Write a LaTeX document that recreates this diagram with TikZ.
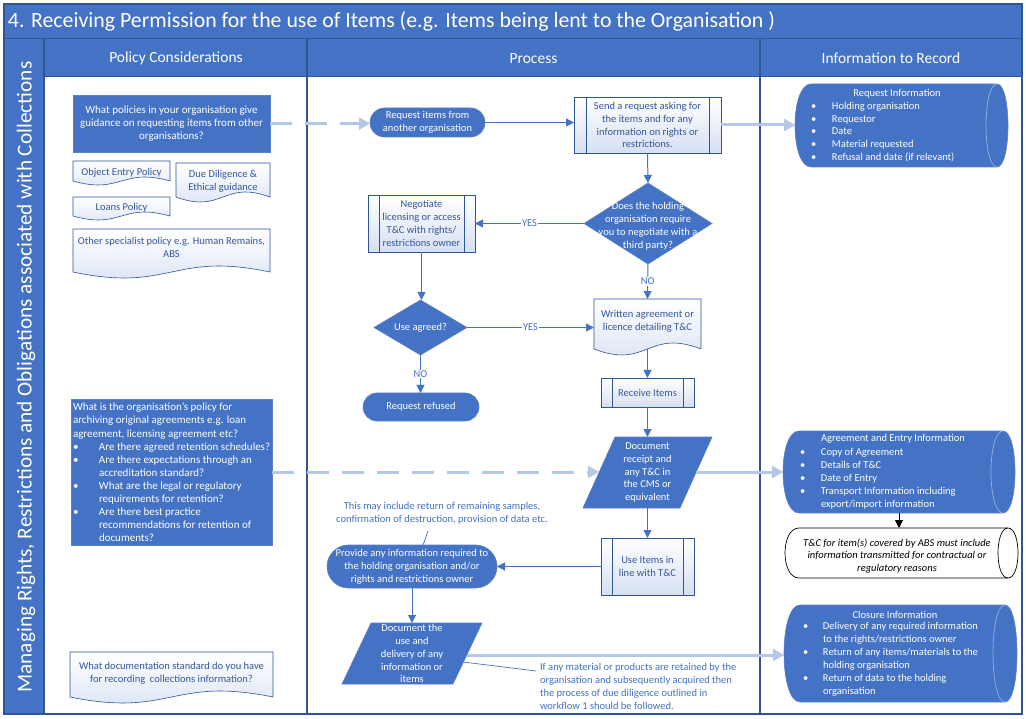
\documentclass[tikz,border=0pt]{standalone}
\usepackage{fontspec}
\setmainfont{Carlito}
\usepackage{graphicx}
\usetikzlibrary{arrows.meta,shapes.geometric,calc}
\definecolor{dblue}{HTML}{4472C4}
\definecolor{nblue}{HTML}{2F5597}
\definecolor{lblue}{HTML}{B4C7E7}
\definecolor{bord}{HTML}{5A7FC8}
\definecolor{shadeb}{HTML}{D6E0F3}
\definecolor{tblue}{HTML}{34579E}
\definecolor{arcl}{HTML}{8EA9DB}
\newcommand\docshape[6]{\path[#6] (#1,#2) -- (#3,#2) -- (#3,#4) .. controls ({(#1+#3)/2},{#4-3.45*#5}) and ({(#1+#3)/2},{#4+3.45*#5}) .. (#1,#4) -- cycle;}
\newcommand\ddshape[8]{%
 \path[#7] ({#1+#5},#2) -- ({#3-#6},#2) .. controls ({#3+#6/3},#2) and ({#3+#6/3},#4) .. ({#3-#6},#4) -- ({#1+#5},#4) .. controls ({#1-#5/3},#4) and ({#1-#5/3},#2) .. ({#1+#5},#2) -- cycle;
 \path[#8] ({#3-#6},#2) .. controls ({#3-7*#6/3},#2) and ({#3-7*#6/3},#4) .. ({#3-#6},#4);}
\newcommand\plines[2]{\draw[nblue, line width=0.6pt] ([xshift=#2]#1.north west) -- ([xshift=#2]#1.south west) ([xshift=-#2]#1.north east) -- ([xshift=-#2]#1.south east);}
\newcommand\bul[1]{\makebox[#1][l]{•}}
\begin{document}
\begin{tikzpicture}[x=1pt,y=-1pt,
  every node/.style={inner sep=0pt, outer sep=0pt},
  nf/.style={font=\fontsize{10.5}{12.9}\selectfont},
  pf/.style={font=\fontsize{11}{13}\selectfont},
  darkbox/.style={nf, fill=dblue, draw=bord, line width=0.6pt, text=white, align=center},
  lightbox/.style={nf, draw=nblue, line width=0.6pt, top color=white, bottom color=shadeb, text=tblue, align=center},
  lightshape/.style={draw=nblue, line width=0.6pt, top color=white, bottom color=shadeb},
  darkshape/.style={fill=dblue, draw=bord, line width=0.6pt},
  ttext/.style={nf, text=tblue, align=center},
  wtext/.style={nf, text=white, align=center},
  conn/.style={draw=dblue, line width=1pt, -{Triangle[length=8pt,width=8pt]}},
  bconn/.style={draw=black, line width=1pt, -{Triangle[length=8pt,width=8pt]}},
  lconn/.style={draw=lblue, line width=3pt, -{Triangle[length=11pt,width=12pt]}},
  dconn/.style={lconn, dash pattern=on 22pt off 13pt},
  lbl/.style={fill=white, text=dblue, font=\fontsize{10.5}{12}\selectfont, inner sep=0.8pt},
  annline/.style={draw=dblue, line width=0.7pt},
  hdr/.style={text=white, font=\fontsize{15.5}{18}\selectfont},
]
\useasboundingbox (0,0) rectangle (1026,719);
\fill[white] (0,0) rectangle (1026,719);
% frame
\fill[dblue] (4,4) rectangle (1022,38);
\fill[dblue] (4,39.5) rectangle (1022,77);
\fill[dblue] (4,39.5) rectangle (44,714);
\draw[nblue, line width=1pt] (4,38.7) -- (1022,38.7);
\draw[nblue, line width=1pt] (44,77) -- (1022,77);
\draw[nblue, line width=1.2pt] (307,39.5) -- (307,714) (760,39.5) -- (760,714) (44,39.5) -- (44,714);
\draw[nblue, line width=1.2pt] (4,4) rectangle (1022,714);
\node[anchor=west, text=white] (title) at (8,21.5) {\resizebox{767pt}{!}{\fontsize{20}{24}\selectfont 4. Receiving Permission for the use of Items (e.g. Items being lent to the Organisation )}};
\node[hdr] (hpol) at (176,58.5) {Policy Considerations};
\node[hdr] (hproc) at (533.5,58.5) {Process};
\node[hdr] (hinfo) at (891,58.5) {Information to Record};
\node[rotate=90, text=white] (band) at (26,377) {\resizebox{631pt}{!}{\fontsize{20}{24}\selectfont Managing Rights, Restrictions and Obligations associated with Collections}};
% policy column
\node[darkbox, pf, minimum width=197pt, minimum height=57pt] (pol1) at (171.5,123.5) {What policies in your organisation give\\guidance on requesting items from other\\organisations?};
\docshape{73}{161}{170}{181}{4}{lightshape}
\node[ttext] (objp) at (121.5,173) {Object Entry Policy};
\docshape{176}{163}{270}{197}{5}{lightshape}
\node[ttext] (dued) at (223,181.5) {Due Diligence \&\\Ethical guidance};
\docshape{73}{197}{170}{216}{4}{lightshape}
\node[ttext] (loans) at (121.5,208) {Loans Policy};
\docshape{73}{229}{270}{272}{6}{lightshape}
\node[ttext] (other) at (171.5,247.5) {Other specialist policy e.g. Human Remains,\\ABS};
\node[darkshape, minimum width=201pt, minimum height=146pt] (pol2) at (171.5,472) {};
\node[text=white, align=left, anchor=west, font=\fontsize{11}{13.1}\selectfont] (pol2t) at (73,472.5) {What is the organisation’s policy for\\archiving original agreements e.g. loan\\agreement, licensing agreement etc?\\\bul{26pt}Are there agreed retention schedules?\\\bul{26pt}Are there expectations through an\\\hspace*{26pt}accreditation standard?\\\bul{26pt}What are the legal or regulatory\\\hspace*{26pt}requirements for retention?\\\bul{26pt}Are there best practice\\\hspace*{26pt}recommendations for retention of\\\hspace*{26pt}documents?};
\docshape{70}{652}{273}{697}{6}{lightshape}
\node[ttext] (pol3) at (171.5,673) {What documentation standard do you have\\for recording\ \ collections information?};
% process column
\node[darkbox, minimum width=115pt, minimum height=29pt, rounded corners=14.5pt] (req) at (427.5,122.5) {Request items from\\another organisation};
\node[lightbox, minimum width=147pt, minimum height=56pt] (send) at (647.5,125) {Send a request asking for\\the items and for any\\information on rights or\\restrictions.};
\plines{send}{12pt}
\node[darkshape, diamond, minimum width=128pt, minimum height=81pt] (dq) at (648,223.5) {};
\node[wtext] (dqt) at (648,226.5) {Does the holding\\organisation require\\you to negotiate with a\\third party?};
\node[lightbox, minimum width=107pt, minimum height=57pt] (neg) at (421.5,223.5) {Negotiate\\licensing or access\\T\&C with rights/\\restrictions owner};
\plines{neg}{11pt}
\node[darkshape, diamond, minimum width=93pt, minimum height=55pt] (ua) at (420.5,327.5) {};
\node[wtext] (uat) at (420.5,328) {Use agreed?};
\docshape{594}{299}{701}{349}{6}{lightshape}
\node[minimum width=107pt, minimum height=50pt] (wa) at (647.5,324) {};
\node[ttext] (wat) at (647.5,321.5) {Written agreement or\\licence detailing T\&C};
\node[darkbox, minimum width=116pt, minimum height=28pt, rounded corners=14pt] (ref) at (421,407) {Request refused};
\node[lightbox, minimum width=93pt, minimum height=29pt] (recv) at (647.5,392.5) {Receive Items};
\plines{recv}{11pt}
\path[darkshape] (615,437) -- (712,437) -- (680,508) -- (583,508) -- cycle;
\node[minimum width=97pt, minimum height=71pt] (drec) at (647.5,472.5) {};
\node[wtext] (drect) at (647.5,472.5) {Document\\receipt and\\any T\&C in\\the CMS or\\equivalent};
\coordinate (drecL) at (599,472);
\coordinate (drecR) at (696,472);
\node[lightbox, minimum width=93pt, minimum height=57pt] (use) at (647.5,566.5) {Use Items in\\line with T\&C};
\plines{use}{11pt}
\node[darkbox, minimum width=170pt, minimum height=43pt, rounded corners=21.5pt] (prov) at (412,566.5) {Provide any information required to\\the holding organisation and/or\\rights and restrictions owner};
\path[darkshape] (371,623) -- (482,623) -- (453,684) -- (342,684) -- cycle;
\node[minimum width=111pt, minimum height=61pt] (duse) at (412,653.5) {};
\node[wtext] (duset) at (412,653.5) {Document the\\use and\\delivery of any\\information or\\items};
\coordinate (duseR) at (467,655);
\node[nf, text=dblue, align=center] (ann1) at (442,513.5) {This may include return of remaining samples,\\confirmation of destruction, provision of data etc.};
\coordinate (a1a) at (428,531);
\coordinate (a1b) at (423,545);
\draw[annline] (a1a) -- (a1b);
\node[nf, text=dblue, align=left, anchor=west] (ann2) at (540,686.5) {If any material or products are retained by the\\organisation and subsequently acquired then\\the process of due diligence outlined in\\workflow 1 should be followed.};
\coordinate (a2a) at (463,662);
\coordinate (a2b) at (536,671);
\draw[annline] (a2a) -- (a2b);
% information column
\ddshape{795}{84}{1008}{167}{16}{11}{darkshape}{draw=arcl, line width=0.8pt}
\node[minimum width=213pt, minimum height=83pt] (rinfo) at (901.5,125.5) {};
\node[wtext] (rinfoT) at (897,94) {Request Information};
\node[nf, text=white, align=left, anchor=west] (rinfoL) at (811,132) {\bul{21pt}Holding organisation\\\bul{21pt}Requestor\\\bul{21pt}Date\\\bul{21pt}Material requested\\\bul{21pt}Refusal and date (if relevant)};
\ddshape{783}{431}{1015}{513}{16}{12}{darkshape}{draw=arcl, line width=0.8pt}
\node[minimum width=232pt, minimum height=82pt] (ainfo) at (899,472) {};
\node[wtext] (ainfoT) at (893,439) {Agreement and Entry Information};
\node[nf, text=white, align=left, anchor=west] (ainfoL) at (800,478.5) {\bul{21pt}Copy of Agreement\\\bul{21pt}Details of T\&C\\\bul{21pt}Date of Entry\\\bul{21pt}Transport Information including\\\hspace*{21pt}export/import information};
\ddshape{785}{528}{1018}{578}{14}{10}{draw=black, fill=white, line width=0.7pt}{draw=black, line width=0.7pt}
\node[minimum width=233pt, minimum height=50pt] (tc) at (901.5,553) {};
\node[nf, align=center, text=black, font=\fontsize{10.5}{12.9}\selectfont\itshape] (tct) at (897,556) {T\&C for item(s) covered by ABS must include\\information transmitted for contractual or\\regulatory reasons};
\ddshape{784}{605}{1017}{702}{16}{12}{darkshape}{draw=arcl, line width=0.8pt}
\node[minimum width=233pt, minimum height=97pt] (cinfo) at (900.5,653.5) {};
\node[wtext] (cinfoT) at (895,615) {Closure Information};
\node[nf, text=white, align=left, anchor=west] (cinfoL) at (803,659.5) {\bul{20pt}Delivery of any required information\\\hspace*{20pt}to the rights/restrictions owner\\\bul{20pt}Return of any items/materials to the\\\hspace*{20pt}holding organisation\\\bul{20pt}Return of data to the holding\\\hspace*{20pt}organisation};
% connectors
\draw[dconn] (pol1.east) -- (pol1.east -| req.west);
\draw[conn] (req.east) -- (req.east -| send.west);
\draw[lconn] (send.east) -- (send.east -| rinfo.west);
\draw[conn] (send.south) -- (dq.north);
\draw[conn] (dq.west) -- node[lbl]{YES} (neg.east);
\draw[conn] (neg.south) -- (neg.south |- ua.north);
\draw[conn] (dq.south) -- node[lbl]{NO} (wa.north);
\draw[conn] (ua.east) -- node[lbl]{YES} (ua.east -| wa.west);
\draw[conn] (ua.south) -- node[lbl]{NO} (ua.south |- ref.north);
\draw[conn] (wa.south) -- (recv.north);
\draw[conn] (recv.south) -- (drec.north);
\draw[dconn] (pol2.east) -- (drecL);
\draw[lconn] (drecR) -- (drecR -| ainfo.west);
\draw[bconn] (ainfo.south) -- (ainfo.south |- tc.north);
\draw[conn] (drec.south) -- (use.north);
\draw[conn] (use.west) -- (use.west -| prov.east);
\draw[conn] (prov.south) -- (duse.north);
\draw[lconn] (duseR) -- (duseR -| cinfo.west);
\end{tikzpicture}
\end{document}
